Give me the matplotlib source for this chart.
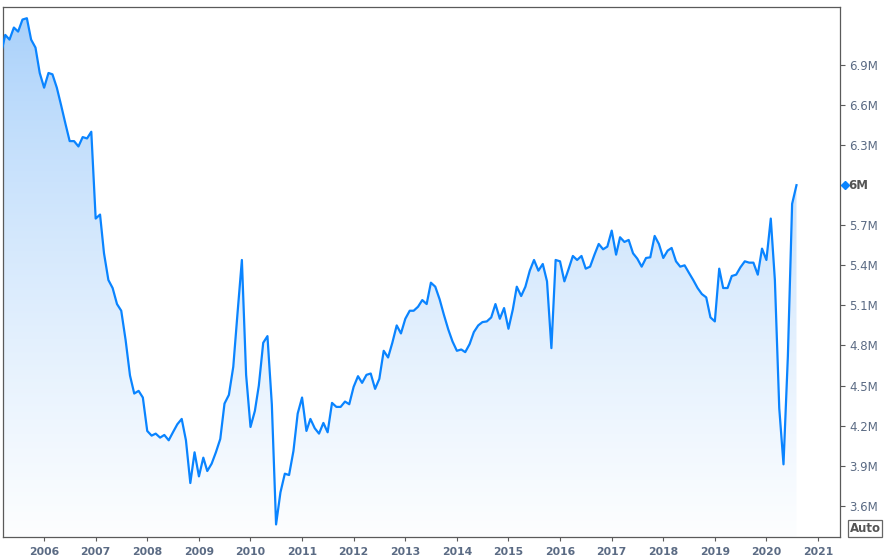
import numpy as np
import pandas as pd
import matplotlib
matplotlib.use("Agg")
import matplotlib.pyplot as plt
import matplotlib.dates as mdates
import matplotlib.transforms as mtransforms
from matplotlib.patches import Polygon

# ---- data (existing home sales, SAAR, millions) ----
first_month = "2005-03-01"
sales_2005 = [6.98, 7.125, 7.09, 7.18, 7.15, 7.24, 7.25, 7.09, 7.03, 6.84]
sales_2006 = [6.73, 6.84, 6.83, 6.73, 6.60, 6.46, 6.33, 6.33, 6.29, 6.36, 6.35, 6.40]
sales_2007 = [5.75, 5.78, 5.49, 5.29, 5.23, 5.11, 5.06, 4.84, 4.575, 4.44, 4.46, 4.41]
sales_2008 = [4.16, 4.125, 4.14, 4.11, 4.13, 4.09, 4.15, 4.21, 4.25, 4.09, 3.77, 4.00]
sales_2009 = [3.82, 3.96, 3.86, 3.915, 4.00, 4.10, 4.365, 4.43, 4.64, 5.04, 5.44, 4.58]
sales_2010 = [4.19, 4.31, 4.50, 4.82, 4.87, 4.36, 3.46, 3.70, 3.84, 3.83, 4.01, 4.29]
sales_2011 = [4.41, 4.16, 4.25, 4.18, 4.14, 4.22, 4.15, 4.37, 4.34, 4.34, 4.38, 4.36]
sales_2012 = [4.49, 4.57, 4.52, 4.58, 4.59, 4.475, 4.55, 4.76, 4.71, 4.82, 4.95, 4.89]
sales_2013 = [5.00, 5.06, 5.06, 5.09, 5.14, 5.11, 5.27, 5.24, 5.145, 5.03, 4.92, 4.83]
sales_2014 = [4.76, 4.77, 4.75, 4.81, 4.90, 4.95, 4.975, 4.98, 5.01, 5.11, 5.00, 5.08]
sales_2015 = [4.925, 5.07, 5.24, 5.17, 5.24, 5.36, 5.44, 5.36, 5.41, 5.28, 4.78, 5.44]
sales_2016 = [5.43, 5.28, 5.37, 5.47, 5.44, 5.47, 5.375, 5.39, 5.48, 5.56, 5.52, 5.54]
sales_2017 = [5.66, 5.48, 5.61, 5.575, 5.59, 5.49, 5.45, 5.39, 5.455, 5.46, 5.62, 5.56]
sales_2018 = [5.455, 5.51, 5.53, 5.43, 5.39, 5.40, 5.345, 5.29, 5.23, 5.185, 5.16, 5.01]
sales_2019 = [4.98, 5.375, 5.23, 5.23, 5.32, 5.33, 5.385, 5.43, 5.42, 5.42, 5.33, 5.525]
sales_2020 = [5.44, 5.75, 5.29, 4.33, 3.91, 4.72, 5.86, 6.00]

values = (sales_2005 + sales_2006 + sales_2007 + sales_2008 + sales_2009 + sales_2010
          + sales_2011 + sales_2012 + sales_2013 + sales_2014 + sales_2015 + sales_2016
          + sales_2017 + sales_2018 + sales_2019 + sales_2020)
dates = pd.date_range(first_month, periods=len(values), freq="MS")

y_ticks = [3.6, 3.9, 4.2, 4.5, 4.8, 5.1, 5.4, 5.7, 6.0, 6.3, 6.6, 6.9]
y_tick_labels = ["3.6M", "3.9M", "4.2M", "4.5M", "4.8M", "5.1M", "5.4M", "5.7M", "", "6.3M", "6.6M", "6.9M"]
x_years = list(range(2006, 2022))
last_label = "6M"
button_label = "Auto"

# ---- figure ----
W, H = 888, 559
fig = plt.figure(figsize=(W / 100, H / 100), dpi=100)
ax = fig.add_axes([3 / W, 1 - 537 / H, 837 / W, 530 / H])

ymin, ymax = 3.366, 7.334
x = mdates.date2num(dates)
xlim = (mdates.date2num(pd.Timestamp("2005-03-16")), mdates.date2num(pd.Timestamp("2021-06-05")))

# gradient fill under the line
g = (np.linspace(0, 1, 256) ** 0.72)[:, None, None]
top_c = np.array([162, 205, 250]) / 255.0
bot_c = np.array([253, 254, 255]) / 255.0
img = top_c * (1 - g) + bot_c * g
im = ax.imshow(img, extent=[x[0], x[-1], ymin, ymax], aspect="auto", origin="upper",
               zorder=1, interpolation="bilinear")
verts = [(x[0], ymin)] + list(zip(x, values)) + [(x[-1], ymin)]
clip = Polygon(verts, closed=True, facecolor="none", edgecolor="none", transform=ax.transData)
ax.add_patch(clip)
im.set_clip_path(clip)

ax.plot(x, values, color="#0a84ff", lw=1.6, zorder=3)

ax.set_xlim(*xlim)
ax.set_ylim(ymin, ymax)

# axes styling
for s in ax.spines.values():
    s.set_color("#5a5a5a")
    s.set_linewidth(0.9)

ax.yaxis.tick_right()
ax.set_yticks(y_ticks)
ax.set_yticklabels(y_tick_labels)
ax.tick_params(axis="y", which="both", left=False, right=True, direction="out",
               length=3.5, width=0.8, pad=3, labelsize=8.5, labelcolor="#5b6b84", color="#5a5a5a")

ax.set_xticks([mdates.date2num(pd.Timestamp(f"{y}-01-01")) for y in x_years])
ax.set_xticklabels([str(y) for y in x_years], fontweight="bold")
ax.tick_params(axis="x", which="both", direction="out", length=3, width=0.8, pad=4,
               labelsize=7.8, labelcolor="#5b6b84", color="#5a5a5a")

# last value marker on right axis
trans = mtransforms.blended_transform_factory(ax.transAxes, ax.transData)
ax.plot([(844.5 - 3) / 837], [values[-1]], marker="D", ms=4, color="#0a84ff",
        transform=trans, clip_on=False, zorder=5)
ax.text((848 - 3) / 837, values[-1], last_label, transform=trans, ha="left", va="center",
        fontsize=8.5, fontweight="bold", color="#555555")

# "Auto" button
fig.text(865 / W, 1 - 528.5 / H, button_label, ha="center", va="center", fontsize=8.5,
         fontweight="bold", color="#555555",
         bbox=dict(boxstyle="square,pad=0.15", fc="white", ec="#666666", lw=0.9))

fig.savefig("out.png", dpi=100)
